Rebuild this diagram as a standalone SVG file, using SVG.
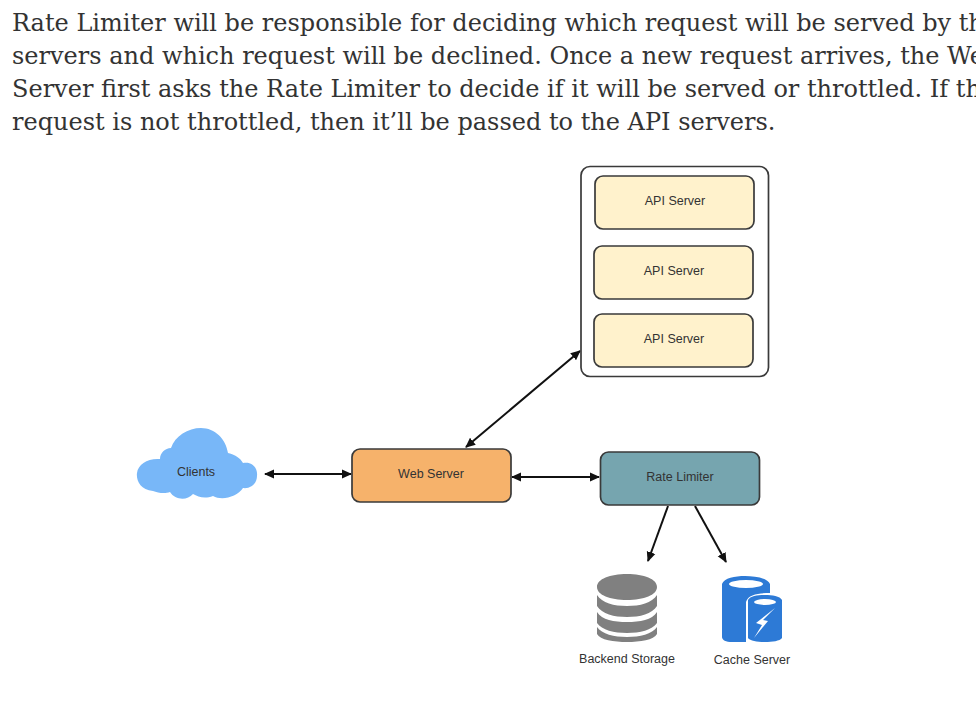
<svg xmlns="http://www.w3.org/2000/svg" width="976" height="703" viewBox="0 0 976 703">
<defs>
<marker id="a" viewBox="0 0 10 10" refX="9" refY="5" markerWidth="10" markerHeight="10" markerUnits="userSpaceOnUse" orient="auto-start-reverse"><path d="M0 0.5L10 5L0 9.5z" fill="#111"/></marker>
</defs>
<style>
text{font-family:"Liberation Sans",Arial,sans-serif;font-size:12.5px;fill:#333;text-anchor:middle}
.p{font-family:Georgia,"DejaVu Serif","Liberation Serif",serif;font-size:24px;fill:#333;text-anchor:start}
.b{stroke:#3a3a3a;stroke-width:1.7}
.api{fill:#fff2cc}
.c{fill:none;stroke:#111;stroke-width:2;marker-end:url(#a);marker-start:url(#a)}
.o{fill:none;stroke:#111;stroke-width:2;marker-end:url(#a)}
</style>
<rect width="976" height="703" fill="#fff"/>
<g id="intro">
<text class="p" x="12" y="31">Rate Limiter will be responsible for deciding which request will be served by the API</text>
<text class="p" x="12" y="64">servers and which request will be declined. Once a new request arrives, the Web</text>
<text class="p" x="12" y="97">Server first asks the Rate Limiter to decide if it will be served or throttled. If the</text>
<text class="p" x="12" y="130">request is not throttled, then it’ll be passed to the API servers.</text>
</g>
<g id="connectors">
<path class="c" d="M265 474H351"/>
<path class="c" d="M466 447L580 351"/>
<path class="c" d="M512 477H599"/>
<path class="o" d="M668 506L648 561"/>
<path class="o" d="M695 506L726 562"/>
</g>
<g id="api-cluster"><rect class="b" x="581" y="166.500" width="187.500" height="210" rx="9" fill="#fff"/></g>
<g id="api-server-1"><rect class="b api" x="595" y="176" width="159" height="53" rx="8"/><text x="675" y="205">API Server</text></g>
<g id="api-server-2"><rect class="b api" x="594" y="246" width="159" height="53" rx="8"/><text x="674" y="275">API Server</text></g>
<g id="api-server-3"><rect class="b api" x="594" y="314" width="159" height="53" rx="8"/><text x="674" y="343">API Server</text></g>
<g id="clients">
<path fill="#78b7f8" d="M153 491C140 490 136 480 137 473C138 464 148 458 160 459C160 453 165 448 171 448C175 436 188 428 201 428C215 428 226 439 228 453C236 455 240 458 243 463C252 461 258 468 257 476C257 484 250 489 243 488C237 497 222 501 213 496C205 499 198 497 193 494C187 501 175 500 170 492C165 494 158 493 153 491Z"/>
<text x="196" y="476">Clients</text>
</g>
<g id="web-server"><rect class="b" x="352" y="449" width="159" height="53" rx="8" fill="#f6b26b"/><text x="431" y="478">Web Server</text></g>
<g id="rate-limiter"><rect class="b" x="600.500" y="452" width="159" height="53" rx="8" fill="#76a5af"/><text x="680" y="481">Rate Limiter</text></g>
<g id="backend-storage">
<path fill="#808080" d="M597 587C597 579 610 574 627 574C644 574 657 579 657 587C657 595 644 600 627 600C610 600 597 595 597 587ZM597 595C602 603 614 606 627 606C640 606 652 603 657 595V606C652 614 640 617 627 617C614 617 602 614 597 606ZM597 612C602 620 614 622 627 622C640 622 652 620 657 612V623C652 630 640 633 627 633C614 633 602 630 597 623ZM597 627C602 634 614 637 627 637C640 637 652 634 657 627V634C654 640 640 642 627 642C614 642 600 640 597 634Z"/>
<text x="627" y="663">Backend Storage</text>
</g>
<g id="cache-server">
<path fill="#2d7ad6" d="M722 584C724 578 735 576 745 576C755 576 768 578 770 584V593C760 593 748 594 746 602V642H732C726 642 722 640 722 637Z"/>
<ellipse cx="746" cy="584" rx="17" ry="4" fill="#fff"/>
<path fill="#2d7ad6" d="M748 600C750 596 758 595 765 595C772 595 780 596 782 600V638C780 641 772 642 765 642C758 642 750 641 748 638Z"/>
<ellipse cx="765" cy="602" rx="11" ry="3" fill="#fff"/>
<path fill="#fff" d="M775 608L763 620L768 621L754 638L762 625L756 623Z"/>
<text x="752" y="664">Cache Server</text>
</g>
</svg>
